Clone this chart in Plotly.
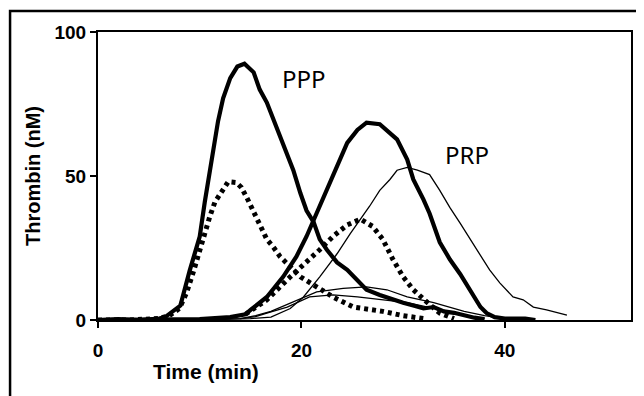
import plotly.graph_objects as go

# PPP, thick solid
ppp_a_t = [0, 2, 4, 5, 6, 6.6, 7.2, 8.1, 9.0, 10, 10.5, 11, 11.3, 11.8, 12.3, 13, 13.7, 14.4, 15.3, 15.9,
           16.6, 17.2, 17.9, 18.6, 19.2, 19.9, 20.5, 21.2, 21.8, 22.5, 23.5, 24.5, 25.5, 26.4, 27.7, 29,
           30, 31, 32, 33, 34, 35, 36, 37, 38]
ppp_a_v = [0, 0.3, 0, 0.2, 0.5, 1, 2.5, 5, 17, 29, 41, 52, 59, 69, 77, 84, 88, 89, 86, 80,
           75.5, 70, 63, 57, 52, 44, 38, 34, 28, 24.4, 20, 17.4, 14, 10.5, 8.7, 7,
           6, 5, 4, 4.5, 3, 2.5, 1.5, 0.8, 0.3]

# PPP, dotted
ppp_b_t = [0, 3, 6, 7, 8, 8.7, 9.4, 10, 10.5, 11, 11.5, 12, 12.8, 13.6, 14.1, 14.7, 15.4, 15.9, 16.6,
           17.2, 17.9, 19.9, 21.5, 23.1, 25.1, 27, 28, 30, 32]
ppp_b_v = [0, 0, 0.5, 1.5, 4, 9.4, 17, 24, 31, 36, 41, 44, 48, 47.7, 46, 42, 37, 32.5, 28,
           25.5, 22, 15, 11.6, 8, 4.5, 3.5, 3, 1.5, 0.5]

# PRP, thick solid
prp_c_t = [0, 5, 10, 13, 14.5, 15, 16.6, 18.2, 19.5, 20.5, 21.5, 22.5, 23.5, 24.5, 25.5, 26.4, 27.7,
           28.4, 29.4, 30.4, 31, 32, 32.6, 33.6, 34.6, 35.6, 36.6, 37.6, 38.2, 39, 40, 42, 43]
prp_c_v = [0, 0, 0.3, 1, 2, 3.5, 8, 15, 22, 29, 37, 45, 53, 61.5, 66, 68.5, 68,
           66, 62.7, 55.7, 48.8, 41.8, 37, 27, 21, 16, 10.5, 4.5, 2.4, 1, 0.5, 0.5, 0]

# PRP, thin solid
prp_d_t = [0, 10, 15, 17, 18.9, 20.2, 21.8, 23.5, 24.8, 25.6, 26.7, 27.7, 28.7, 29.4, 30.4, 31.4, 32.6,
           33.6, 34.6, 35.6, 36.6, 37.6, 38.5, 39.5, 40.8, 41.8, 42.8, 44.1, 46.1]
prp_d_v = [0, 0, 0.5, 1, 4, 8, 15, 23, 30, 34, 39.5, 45, 48.8, 52, 53, 52, 50.5,
           45, 39, 33.6, 28, 22, 17.4, 12.9, 8, 7, 4.5, 3.5, 1.7]

# PRP, dotted
prp_e_t = [14.5, 16.6, 18.9, 20.5, 21.8, 23.1, 24.5, 25.8, 27, 28, 29, 30, 31, 32.4, 33.6, 35]
prp_e_v = [2, 7, 15, 20, 24.4, 29, 33, 35, 32.5, 28, 21, 15, 10.5, 6, 2.4, 0.5]

# low thin curves
low_f_t = [0, 10, 14, 15.5, 17, 19.7, 21.5, 24.1, 26.4, 28.4, 30.4, 33, 34.6, 36, 38, 40]
low_f_v = [0, 0, 0.5, 1.5, 3, 7, 9.8, 11, 11.5, 10.5, 8, 6, 4.5, 3, 1.5, 0.5]
low_g_t = [14, 15.5, 16.6, 18.6, 20.8, 23.1, 25.5, 28, 30.4, 33, 36, 38]
low_g_v = [0.5, 1.2, 2.4, 4.5, 8, 8.7, 8, 7, 6, 4, 1.5, 0.5]

x_ticks = [0, 20, 40]
y_ticks = [0, 50, 100]

fig = go.Figure()
thin = dict(color="black", width=1.3)
thick = dict(color="black", width=4.2)
dotted = dict(color="black", width=5, dash="4px,4px")

fig.add_trace(go.Scatter(x=low_f_t, y=low_f_v, mode="lines", line=thin))
fig.add_trace(go.Scatter(x=low_g_t, y=low_g_v, mode="lines", line=thin))
fig.add_trace(go.Scatter(x=prp_d_t, y=prp_d_v, mode="lines", line=thin))
fig.add_trace(go.Scatter(x=prp_e_t, y=prp_e_v, mode="lines", line=dotted))
fig.add_trace(go.Scatter(x=ppp_b_t, y=ppp_b_v, mode="lines", line=dotted))
fig.add_trace(go.Scatter(x=prp_c_t, y=prp_c_v, mode="lines", line=thick))
fig.add_trace(go.Scatter(x=ppp_a_t, y=ppp_a_v, mode="lines", line=thick))

fig.add_annotation(x=20.3, y=84, text="PPP", showarrow=False,
                   font=dict(family="Noto Sans", size=24, color="black"))
fig.add_annotation(x=36.3, y=57.5, text="PRP", showarrow=False,
                   font=dict(family="Noto Sans", size=24, color="black"))

# x-axis title (placed left of centre, as in the original)
fig.add_annotation(xref="paper", yref="paper", x=0.203, y=-0.18, xanchor="center", yanchor="middle",
                   text="Time (min)", showarrow=False,
                   font=dict(family="Liberation Sans", size=21, color="black", weight="bold"))

fig.add_shape(type="rect", xref="paper", yref="paper",
              x0=-0.165, x1=1.3, y0=-0.5, y1=1.073,
              line=dict(color="black", width=2.5))

axis_font = dict(family="Liberation Sans", size=19, color="black", weight="bold")
fig.update_layout(
    width=644, height=396,
    margin=dict(l=90, r=21, t=24, b=84),
    paper_bgcolor="white", plot_bgcolor="white",
    showlegend=False,
    font=dict(family="Liberation Sans", color="black"),
    xaxis=dict(range=[0, 52.4], tickvals=x_ticks, showgrid=False, zeroline=False,
               showline=True, linecolor="black", linewidth=2, mirror=True,
               ticks="outside", ticklen=6, tickwidth=1.5, tickcolor="black",
               tickfont=axis_font, ticklabelstandoff=6),
    yaxis=dict(range=[0, 100], tickvals=y_ticks, showgrid=False, zeroline=False,
               showline=True, linecolor="black", linewidth=2, mirror=True,
               ticks="outside", ticklen=6, tickwidth=1.5, tickcolor="black",
               tickfont=axis_font,
               title=dict(text="Thrombin (nM)", font=dict(family="Liberation Sans", size=20,
                                                         color="black", weight="bold"), standoff=8)),
)

fig.write_html("out.html")
